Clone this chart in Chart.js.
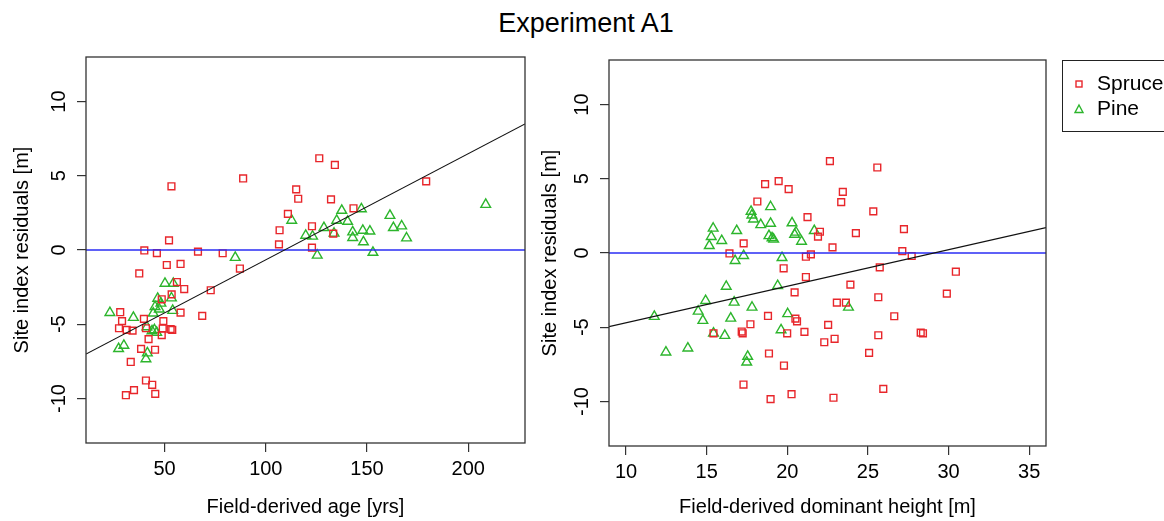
<!DOCTYPE html>
<html>
<head>
<meta charset="utf-8">
<title>Experiment A1</title>
<script src="https://cdn.jsdelivr.net/npm/chart.js@4.4.1/dist/chart.umd.min.js"></script>
<style>
  html, body { margin: 0; padding: 0; background: #fff; overflow: hidden; }
  body { width: 1164px; height: 521px; position: relative; font-family: "Liberation Sans", Arial, sans-serif; }
  #title { position: absolute; left: 0; top: 10px; width: 1172px; text-align: center; font-size: 27px; line-height: 26px; color: #000; }
  #ageChart { position: absolute; left: 0; top: 0; }
  #heightChart { position: absolute; left: 540px; top: 0; }
  #legend { position: absolute; left: 1062px; top: 60px; width: 130px; height: 72px; border: 1.5px solid #222; box-sizing: border-box; }
  .item { position: absolute; left: 0; height: 24px; font-size: 21px; line-height: 24px; color: #000; }
  .item svg { position: absolute; left: 10px; top: 7px; }
  .item span { position: absolute; left: 34px; white-space: nowrap; }
</style>
</head>
<body>
<div id="title">Experiment A1</div>
<canvas id="ageChart" width="540" height="521"></canvas>
<canvas id="heightChart" width="624" height="521"></canvas>
<div id="legend"></div>

<script>
// series names
const speciesNames = ['Spruce', 'Pine'];

// residuals vs field-derived age [yrs]
const spruceAge = [
  [53.4,4.29],[88.8,4.82],[126.4,6.18],[134.1,5.73],[115,4.08],[116,3.45],[132.2,3.41],[179.2,4.62],
  [110.9,2.43],[143.3,2.81],[106.8,1.33],[122.8,1.6],[133.3,1.1],[106.5,0.38],[122.8,0.16],
  [40,-0.03],[46.2,-0.21],[66.5,-0.11],[78.7,-0.22],[52.2,0.65],[51.1,-1.01],[57.9,-0.94],[37.5,-1.58],
  [87.2,-1.25],[56.1,-2.16],[59.7,-2.63],[72.8,-2.71],[53.5,-2.99],[48.6,-3.32],[57.9,-4.22],[68.6,-4.44],
  [28.1,-4.19],[39.8,-4.64],[49.4,-4.79],[29,-4.79],[27.5,-5.27],[31.3,-5.38],[34.2,-5.43],[40.8,-5.27],
  [49.1,-5.29],[53,-5.33],[53.8,-5.38],[42.1,-6.0],[48.6,-5.73],[38.4,-6.66],[45.3,-6.72],[33.3,-7.54],
  [40.8,-8.79],[43.9,-9.08],[30.9,-9.78],[34.9,-9.44],[45.4,-9.69]
];
const pineAge = [
  [112.8,1.99],[119.7,0.98],[123.1,0.92],[128.7,1.5],[133.7,1.12],[135,1.99],[137.5,2.66],[140.4,1.92],
  [147.2,2.77],[142.9,1.21],[142.9,0.83],[148.2,0.54],[147.9,1.32],[151.4,1.27],[125.4,-0.36],[152.9,-0.17],
  [161.3,2.32],[163,1.5],[167.1,1.61],[169.5,0.8],[208.6,3.06],[84.9,-0.51],
  [50.2,-2.25],[54.3,-2.25],[46.6,-3.26],[53.4,-3.24],[48.2,-3.59],[45.3,-3.82],[47.4,-3.99],[54,-4.08],
  [44.4,-4.26],[23,-4.22],[34.6,-4.55],[41.3,-5.18],[43.8,-5.45],[45,-5.38],[46.1,-5.56],[27.3,-6.65],
  [29.9,-6.43],[41.5,-6.94],[40.8,-7.34]
];

// residuals vs field-derived dominant height [m]
const spruceHeight = [
  [22.64,6.19],[25.58,5.76],[18.62,4.64],[19.46,4.84],[20.08,4.3],[23.44,4.12],[23.34,3.43],[18.14,3.47],
  [25.33,2.8],[21.25,2.42],[22.02,1.43],[21.9,1.1],[24.25,1.34],[22.8,0.38],[17.29,0.65],[16.41,-0.03],
  [21.15,-0.25],[21.46,-0.09],[19.77,-1.03],[21.15,-1.62],[23.91,-2.13],[20.45,-2.65],[23.07,-3.34],
  [23.63,-3.34],[18.8,-4.24],[20.5,-4.42],[20.6,-4.6],[27.23,1.61],[27.13,0.13],[27.71,-0.2],[25.73,-0.97],
  [30.45,-1.26],[29.89,-2.74],[25.64,-2.98],[26.63,-4.26],[19.99,-5.41],[21.06,-5.31],[22.53,-4.84],
  [22.29,-6.01],[22.93,-5.78],[25.64,-5.54],[25.07,-6.73],[28.27,-5.36],[28.41,-5.41],[19.79,-7.58],
  [20.26,-9.51],[22.86,-9.75],[25.95,-9.15],[17.71,-4.8],[17.17,-5.29],[17.23,-5.41],[15.42,-5.41],
  [18.86,-6.77],[17.28,-8.86],[18.96,-9.84]
];
const pineHeight = [
  [15.4,1.66],[15.28,1.1],[15.16,0.49],[15.93,0.83],[16.86,1.5],[17.75,2.8],[17.8,2.55],[17.9,2.28],
  [18.35,1.9],[18.96,3.11],[18.96,1.99],[18.86,1.16],[19.05,1.01],[19.15,0.92],[20.29,2.02],[20.54,1.39],
  [20.45,1.25],[20.88,0.78],[21.67,1.5],[19.67,-0.32],[16.76,-0.52],[17.29,-0.18],[16.21,-2.25],[19.4,-2.2],
  [14.93,-3.21],[16.7,-3.32],[17.81,-3.66],[14.47,-3.93],[11.75,-4.28],[14.76,-4.55],[16.49,-4.4],
  [20.02,-4.1],[19.61,-5.18],[15.42,-5.41],[16.12,-5.56],[12.47,-6.68],[13.83,-6.41],[17.54,-6.97],
  [17.48,-7.36],[23.79,-3.66]
];

// fitted lines: [intercept, slope]
const fitAge = [-7.81, 0.0715];
const fitHeight = [-7.16, 0.246];

// axes
const ageRange = [11.2, 228];
const heightRange = [8.94, 36.04];
const residRange = [-13, 13];
const ageTicks = [50, 100, 150, 200];
const heightTicks = [10, 15, 20, 25, 30, 35];
const residTicks = [-10, -5, 0, 5, 10];

const RED = '#e8262b';
const GREEN = '#2cb52c';
const FONT = '"Liberation Sans", Arial, sans-serif';

const boxPlugin = {
  id: 'box',
  afterDatasetsDraw(chart) {
    const a = chart.chartArea;
    const ctx = chart.ctx;
    ctx.save();
    ctx.strokeStyle = '#333';
    ctx.lineWidth = 1.3;
    ctx.strokeRect(a.left, a.top, a.right - a.left, a.bottom - a.top);
    ctx.restore();
  }
};

function toPts(arr) {
  return arr.map(p => ({ x: p[0], y: p[1] }));
}

function makePanel(id, spruce, pine, fit, xRange, xTicks, xTitle, lay) {
  new Chart(document.getElementById(id), {
    type: 'scatter',
    data: {
      datasets: [
        {
          type: 'line', label: 'fit',
          data: xRange.map(x => ({ x: x, y: fit[0] + fit[1] * x })),
          borderColor: '#111', borderWidth: 1.2, pointRadius: 0
        },
        {
          type: 'line', label: 'zero',
          data: xRange.map(x => ({ x: x, y: 0 })),
          borderColor: '#2a2cf5', borderWidth: 1.6, pointRadius: 0
        },
        {
          label: speciesNames[0], data: toPts(spruce),
          pointStyle: 'rect', pointRadius: 4.8, borderColor: RED,
          backgroundColor: 'rgba(0,0,0,0)', borderWidth: 1.4
        },
        {
          label: speciesNames[1], data: toPts(pine),
          pointStyle: 'triangle', pointRadius: 5.6, borderColor: GREEN,
          backgroundColor: 'rgba(0,0,0,0)', borderWidth: 1.4
        }
      ]
    },
    options: {
      responsive: false,
      animation: false,
      events: [],
      layout: { padding: { left: 0, top: lay.top, right: lay.right, bottom: 0 } },
      plugins: { legend: { display: false }, tooltip: { enabled: false } },
      scales: {
        x: {
          type: 'linear', min: xRange[0], max: xRange[1],
          afterBuildTicks: s => { s.ticks = xTicks.map(v => ({ value: v })); },
          afterFit: s => { s.height = lay.xh; },
          grid: { drawOnChartArea: false, drawTicks: true, tickLength: 9, color: '#333', lineWidth: 1.2 },
          border: { display: false },
          ticks: { color: '#000', font: { family: FONT, size: 20 }, padding: 5, maxRotation: 0 },
          title: {
            display: true, text: xTitle, color: '#000',
            font: { family: FONT, size: 20, lineHeight: 1 }, padding: { top: 0, bottom: 4 }
          }
        },
        y: {
          type: 'linear', min: residRange[0], max: residRange[1],
          afterBuildTicks: s => { s.ticks = residTicks.map(v => ({ value: v })); },
          afterFit: s => { s.width = lay.yw; },
          grid: { drawOnChartArea: false, drawTicks: true, tickLength: 9, color: '#333', lineWidth: 1.2 },
          border: { display: false },
          ticks: {
            color: '#000', font: { family: FONT, size: 20 }, padding: 3.5,
            minRotation: 90, maxRotation: 90, crossAlign: 'center'
          },
          title: {
            display: true, text: 'Site index residuals [m]', color: '#000',
            font: { family: FONT, size: 20, lineHeight: 1 }, padding: { top: lay.ytp, bottom: 0 }
          }
        }
      }
    },
    plugins: [boxPlugin]
  });
}

makePanel('ageChart', spruceAge, pineAge, fitAge, ageRange, ageTicks,
  'Field-derived age [yrs]', { top: 57, right: 15, xh: 78, yw: 86, ytp: 12 });
makePanel('heightChart', spruceHeight, pineHeight, fitHeight, heightRange, heightTicks,
  'Field-derived dominant height [m]', { top: 60, right: 118, xh: 75, yw: 69, ytp: 0 });

// legend
const legend = document.getElementById('legend');
const symbols = [
  '<svg width="12" height="12"><rect x="3" y="3" width="6" height="6" fill="none" stroke="' + RED + '" stroke-width="1.4"/></svg>',
  '<svg width="12" height="12"><polygon points="6,2 10,9.5 2,9.5" fill="none" stroke="' + GREEN + '" stroke-width="1.4"/></svg>'
];
speciesNames.forEach((name, i) => {
  const d = document.createElement('div');
  d.className = 'item';
  d.style.top = (10 + i * 25) + 'px';
  d.innerHTML = symbols[i] + '<span>' + name + '</span>';
  legend.appendChild(d);
});
</script>
</body>
</html>
